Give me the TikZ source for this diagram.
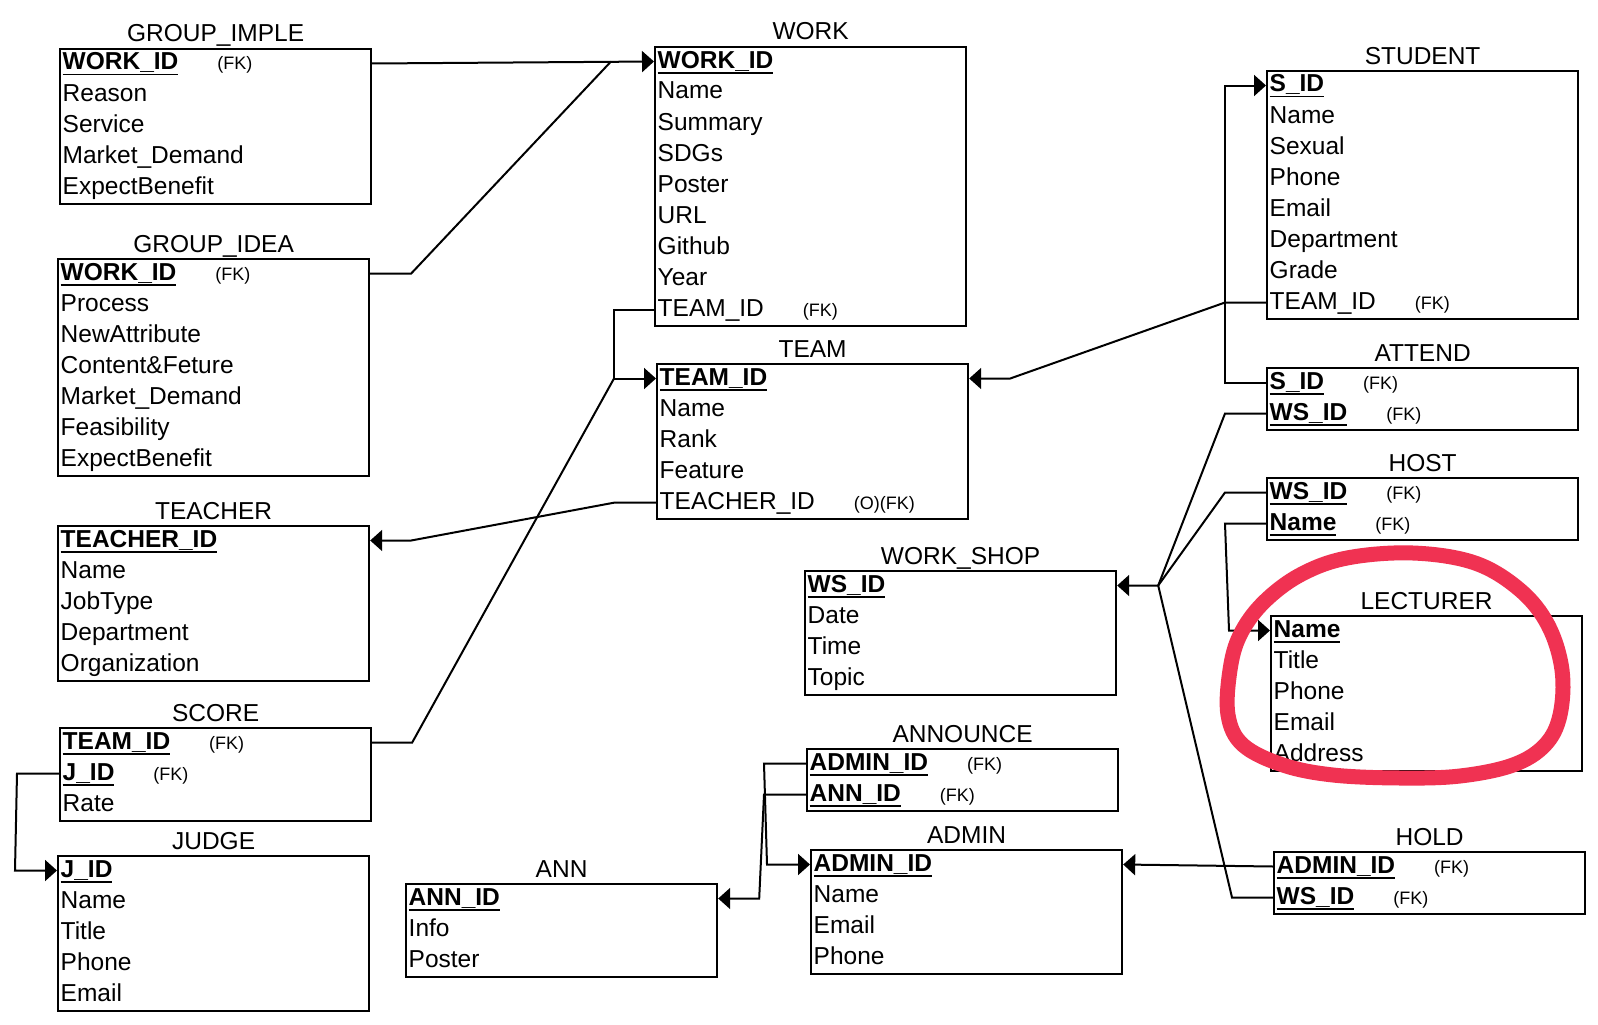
\documentclass[tikz,border=0pt]{standalone}
\usepackage{fontspec}
\setmainfont{Liberation Sans}
\usetikzlibrary{arrows.meta,calc}

\newsavebox{\pkbox}
\newcommand{\pk}[1]{\sbox{\pkbox}{\bfseries #1}\rlap{\rule[-5.5pt]{\wd\pkbox}{1.8pt}}\usebox{\pkbox}}
\newcommand{\fk}[1]{\hspace{39pt}{\fontsize{18}{20}\selectfont #1}}
% name, north west corner, number of rows, title, rows
\newcommand{\erent}[5]{%
  \node[tbl, minimum height=#3*31pt] (#1) at (#2) {};
  \node[ttl] (#1-t) at ($(#1.north)+(0,-6)$) {#4};
  \foreach \rowtxt [count=\rowno] in {#5}
    \node[attr] (#1-\rowno) at ($(#1.north west)+(3.5,15.5+31*\rowno-31)$) {\rowtxt};
}

\begin{document}
\begin{tikzpicture}[x=1pt, y=-1pt,
  tbl/.style={draw, line width=2.2pt, anchor=north west, minimum width=311pt, inner sep=0pt},
  ttl/.style={anchor=base, inner sep=0pt, font=\fontsize{24.5}{30}\selectfont},
  attr/.style={anchor=west, inner sep=0pt, text height=20pt, text depth=7pt, font=\fontsize{24.5}{30}\selectfont},
  link/.style={line width=2pt},
  rel/.style={link, -{Triangle[length=12pt, width=21pt]}},
  loop/.style={line width=15pt, draw={rgb,255:red,240;green,50;blue,82}, line cap=round, line join=round}]
\fill[white] (0,0) rectangle (1598,1025);
\useasboundingbox (0,0) rectangle (1598,1025);

\erent{gimp}{59,48}{5}{GROUP\_IMPLE}{\pk{WORK\_ID}\fk{(FK)}, Reason, Service, Market\_Demand, ExpectBenefit}
\erent{gidea}{57,258}{7}{GROUP\_IDEA}{\pk{WORK\_ID}\fk{(FK)}, Process, NewAttribute, Content\&Feture, Market\_Demand, Feasibility, ExpectBenefit}
\erent{work}{654,46}{9}{WORK}{\pk{WORK\_ID}, Name, Summary, SDGs, Poster, URL, Github, Year, TEAM\_ID\fk{(FK)}}
\erent{team}{656,363}{5}{TEAM}{\pk{TEAM\_ID}, Name, Rank, Feature, TEACHER\_ID\fk{(O)(FK)}}
\erent{student}{1266,70}{8}{STUDENT}{\pk{S\_ID}, Name, Sexual, Phone, Email, Department, Grade, TEAM\_ID\fk{(FK)}}
\erent{attend}{1266,367}{2}{ATTEND}{\pk{S\_ID}\fk{(FK)}, \pk{WS\_ID}\fk{(FK)}}
\erent{host}{1266,477}{2}{HOST}{\pk{WS\_ID}\fk{(FK)}, \pk{Name}\fk{(FK)}}
\erent{teacher}{57,525}{5}{TEACHER}{\pk{TEACHER\_ID}, Name, JobType, Department, Organization}
\erent{score}{59,727}{3}{SCORE}{\pk{TEAM\_ID}\fk{(FK)}, \pk{J\_ID}\fk{(FK)}, Rate}
\erent{judge}{57,855}{5}{JUDGE}{\pk{J\_ID}, Name, Title, Phone, Email}
\erent{ann}{405,883}{3}{ANN}{\pk{ANN\_ID}, Info, Poster}
\erent{wshop}{804,570}{4}{WORK\_SHOP}{\pk{WS\_ID}, Date, Time, Topic}
\erent{announce}{806,748}{2}{ANNOUNCE}{\pk{ADMIN\_ID}\fk{(FK)}, \pk{ANN\_ID}\fk{(FK)}}
\erent{admin}{810,849}{4}{ADMIN}{\pk{ADMIN\_ID}, Name, Email, Phone}
\erent{lect}{1270,615}{5}{LECTURER}{\pk{Name}, Title, Phone, Email, Address}
\erent{hold}{1273,851}{2}{HOLD}{\pk{ADMIN\_ID}\fk{(FK)}, \pk{WS\_ID}\fk{(FK)}}

% to WORK
\coordinate (wj) at ($(work-1 -| work.west)+(-43,0)$);
\draw[rel] (gimp-1 -| gimp.east) -- (work-1 -| work.west);
\draw[link] (gidea-1 -| gidea.east) -- ++(41,0) -- (wj);

% to TEAM
\coordinate (tj) at ($(team-1 -| team.west)+(-42,0)$);
\draw[rel] (work-9 -| work.west) -| (tj) -- (team-1 -| team.west);
\draw[link] (score-1 -| score.east) -- ++(40,0) -- (tj);
\draw[rel] (student-8 -| student.west) -- ++(-41,0) -- ($(team-1 -| team.east)+(41,0)$) -- (team-1 -| team.east);

% to TEACHER, STUDENT
\draw[rel] (team-5 -| team.west) -- ++(-41,0) -- ($(teacher-1 -| teacher.east)+(41,0)$) -- (teacher-1 -| teacher.east);
\draw[rel] (attend-1 -| attend.west) -- ++(-41,0) |- (student-1 -| student.west);

% to WORK_SHOP
\coordinate (sj) at ($(wshop-1 -| wshop.east)+(41,0)$);
\draw[rel] (attend-2 -| attend.west) -- ++(-41,0) -- (sj) -- (wshop-1 -| wshop.east);
\draw[link] (host-1 -| host.west) -- ++(-41,0) -- (sj);
\draw[link] (hold-2 -| hold.west) -- ++(-41,0) -- (sj);

% to LECTURER, ADMIN, ANN, JUDGE
\draw[rel] (host-2 -| host.west) -- ++(-41,0) -- ($(lect-1 -| lect.west)+(-41,0)$) -- (lect-1 -| lect.west);
\draw[rel] (hold-1 -| hold.west) -- (admin-1 -| admin.east);
\draw[rel] (announce-1 -| announce.west) -- ++(-42,0) -- ($(admin-1 -| admin.west)+(-43,0)$) -- (admin-1 -| admin.west);
\draw[rel] (announce-2 -| announce.west) -- ++(-42,0) -- ($(ann-1 -| ann.east)+(41,0)$) -- (ann-1 -| ann.east);
\draw[rel] (score-2 -| score.west) -- ++(-42,0) -- ($(judge-1 -| judge.west)+(-42,0)$) -- (judge-1 -| judge.west);

% red mark round LECTURER
\draw[loop] plot[smooth cycle, tension=0.6] coordinates {(1263,603) (1300,575) (1347,558) (1413,553) (1475,563) (1520,590) (1548,625) (1562,670) (1560,715) (1545,745) (1513,765) (1460,776) (1400,778) (1333,775) (1283,765) (1243,745) (1228,715) (1230,670) (1240,635)};
\end{tikzpicture}
\end{document}
